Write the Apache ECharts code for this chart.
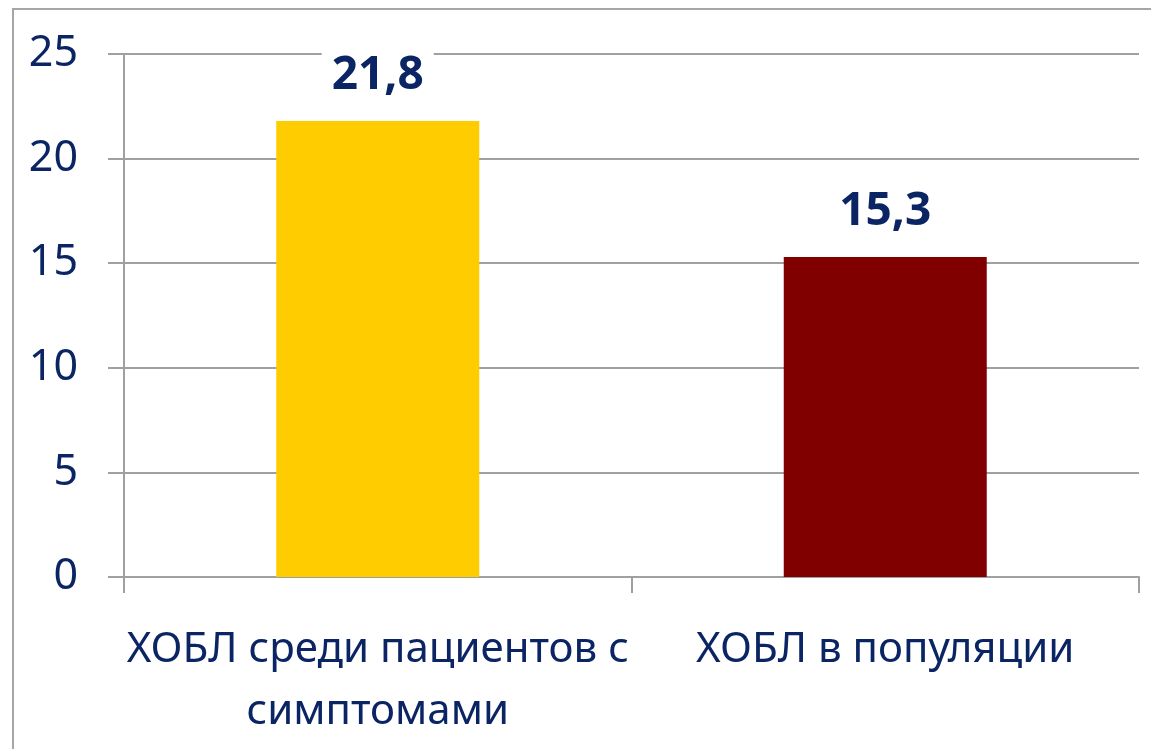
<!DOCTYPE html>
<html><head><meta charset="utf-8">
<script src="https://cdn.jsdelivr.net/npm/echarts@6/dist/echarts.min.js"></script>
<style>html,body{margin:0;padding:0;background:#fff}#c{width:1151px;height:749px}</style>
</head><body><div id="c"></div>
<script>
const categories = ['ХОБЛ среди пациентов с\nсимптомами', 'ХОБЛ в популяции'];
const values = [21.8, 15.3];
const valueLabels = ['21,8', '15,3'];
const barColors = ['#FFCC00', '#800000'];
const yTicks = { min: 0, max: 25, interval: 5 };

const txt = '#0B2564';
const grid = '#A0A0A0';
const font = 'Noto Sans';
const chart = echarts.init(document.getElementById('c'), null, {renderer: 'canvas'});
chart.setOption({
  animation: false,
  backgroundColor: '#fff',
  graphic: [{type: 'rect', shape: {x: 13, y: 9, width: 1300, height: 900}, style: {fill: 'none', stroke: '#A6A6A6', lineWidth: 2}, z: -1}],
  grid: {left: 124, right: 12, top: 54, bottom: 172},
  xAxis: {
    type: 'category', data: categories,
    axisLine: {lineStyle: {color: grid, width: 2}},
    axisTick: {show: true, length: 16, lineStyle: {color: grid, width: 2}},
    axisLabel: {color: txt, fontFamily: font, fontSize: 42, lineHeight: 62, margin: 42, interval: 0}
  },
  yAxis: {
    type: 'value', min: yTicks.min, max: yTicks.max, interval: yTicks.interval,
    axisLine: {show: true, lineStyle: {color: grid, width: 2}},
    axisTick: {show: true, length: 16, lineStyle: {color: grid, width: 2}},
    splitLine: {lineStyle: {color: grid, width: 2}},
    axisLabel: {color: txt, fontFamily: font, fontSize: 43, margin: 46}
  },
  series: [{
    type: 'bar', barWidth: '40%',
    data: values.map((v, i) => ({value: v, itemStyle: {color: barColors[i]}})),
    label: {show: true, position: 'top', distance: 20, color: txt, fontFamily: font, fontWeight: 'bold', fontSize: 46,
      backgroundColor: '#fff', padding: [2, 10, 2, 10],
      formatter: p => valueLabels[p.dataIndex]}
  }]
});
</script></body></html>
